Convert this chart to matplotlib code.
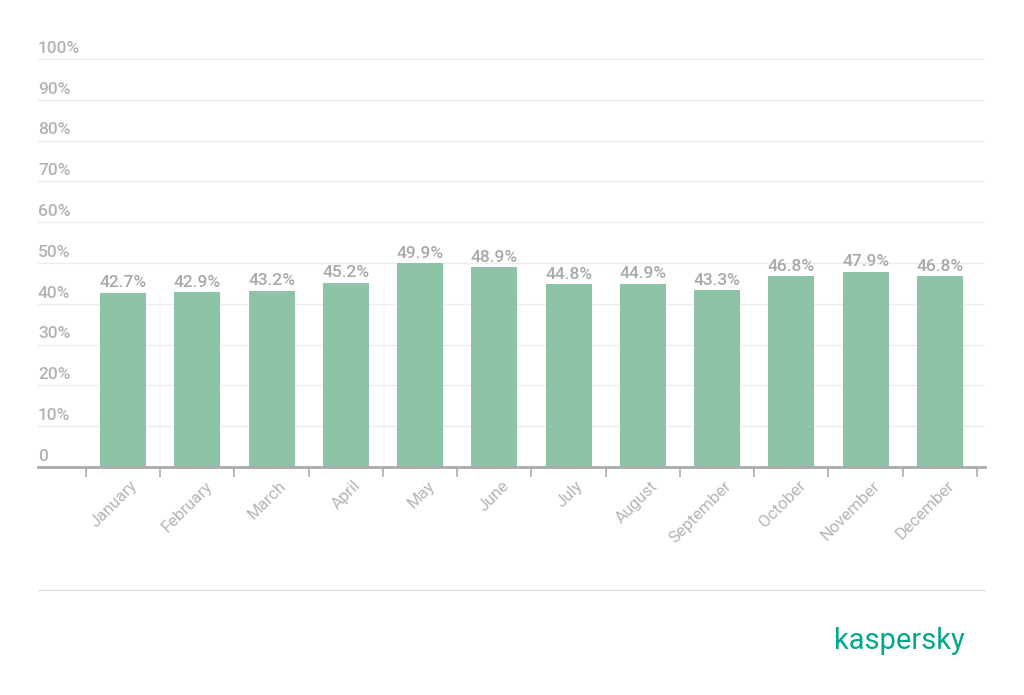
import matplotlib.pyplot as plt
import matplotlib.transforms as mtransforms
import numpy as np

months = ["January", "February", "March", "April", "May", "June", "July",
          "August", "September", "October", "November", "December"]
shares = [42.7, 42.9, 43.2, 45.2, 49.9, 48.9, 44.8, 44.9, 43.3, 46.8, 47.9, 46.8]
y_ticks = [0, 10, 20, 30, 40, 50, 60, 70, 80, 90, 100]

W, H = 1024, 695
fig = plt.figure(figsize=(W / 100, H / 100), dpi=100)
fig.patch.set_facecolor("white")
plt.rcParams["font.family"] = ["Roboto", "DejaVu Sans"]

# axes box in pixels: x 38..985, y 59..467
ax = fig.add_axes([38 / W, 1 - 467 / H, (985 - 38) / W, (467 - 59) / H])
x = np.arange(len(months))
ax.bar(x, shares, width=0.62, color="#8ec3a7", zorder=3)

ax.set_ylim(0, 100)
ax.set_xlim(-1.146, 11.608)

for s in ["top", "right", "left"]:
    ax.spines[s].set_visible(False)
ax.spines["bottom"].set_color("#aaaaaa")
ax.spines["bottom"].set_linewidth(2)
ax.spines["bottom"].set_zorder(4)

# gridlines + labels sitting above them
ax.set_yticks(y_ticks)
ax.yaxis.grid(True, color="#ececec", linewidth=1)
ax.tick_params(axis="y", length=0, labelleft=False)
trans = mtransforms.blended_transform_factory(ax.transAxes, ax.transData)
for v in y_ticks:
    lab = "0" if v == 0 else f"{v}%"
    ax.text(0, v + 0.8, lab, transform=trans, ha="left", va="bottom",
            fontsize=12.5, color="#b3b3b3", fontweight="medium")

# category ticks at boundaries, labels at centres
ax.set_xticks(x)
ax.set_xticklabels(months, rotation=45, ha="right", rotation_mode="anchor",
                   fontsize=12, color="#b5b5b5")
ax.tick_params(axis="x", which="major", length=0, pad=8)
ax.set_xticks(np.arange(-0.5, len(months)), minor=True)
ax.tick_params(axis="x", which="minor", length=7, width=1.2, color="#aaaaaa")
for lbl in ax.get_xticklabels():
    lbl.set_transform(lbl.get_transform() + mtransforms.ScaledTranslation(7 / 100, 0, fig.dpi_scale_trans))

for xi, v in zip(x, shares):
    ax.text(xi, v + 0.6, f"{v:.1f}%", ha="center", va="bottom",
            fontsize=12.5, color="#a8a8a8", fontweight="medium", zorder=5)

# bottom separator and logo
fig.add_artist(plt.Line2D([38 / W, 985 / W], [1 - 590 / H, 1 - 590 / H],
                          color="#dddddd", linewidth=1))
fig.text(965 / W, 1 - 641 / H, "kaspersky", ha="right", va="center",
         fontsize=21, color="#00a88e")

fig.savefig("out.png", dpi=100, facecolor="white")
